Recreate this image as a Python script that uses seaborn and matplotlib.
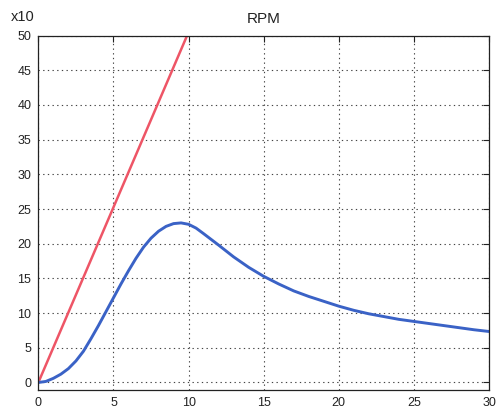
import matplotlib
matplotlib.use("Agg")
import matplotlib.pyplot as plt
import seaborn as sns
import pandas as pd

# Reference ramp (straight line, runs off the top of the plot)
ramp_t = [0, 9.9]
ramp_rpm = [0, 50]

# Measured speed curve (values in RPM x10)
speed_t = [0, 0.5, 1, 1.5, 2, 2.5, 3, 3.5, 4, 4.5, 5, 5.5, 6, 6.5, 7, 7.5, 8, 8.5, 9,
           9.5, 10, 10.5, 11, 12, 13, 14, 15, 16, 17, 18, 19, 20, 21, 22, 23, 24,
           25, 26, 27, 28, 29, 30]
speed_rpm = [0, 0.15, 0.6, 1.2, 2.0, 3.1, 4.5, 6.3, 8.2, 10.2, 12.2, 14.2, 16.1, 17.9,
             19.5, 20.8, 21.8, 22.5, 22.9, 23.0, 22.8, 22.25, 21.45, 19.8, 18.1, 16.6,
             15.3, 14.2, 13.2, 12.4, 11.7, 11.0, 10.4, 9.9, 9.5, 9.1, 8.8, 8.5, 8.2,
             7.9, 7.6, 7.35]

x_ticks = [0, 5, 10, 15, 20, 25, 30]
y_ticks = [0, 5, 10, 15, 20, 25, 30, 35, 40, 45, 50]

sns.set_style("white")
plt.rcParams["font.family"] = ["Liberation Sans", "DejaVu Sans"]

fig = plt.figure(figsize=(4.98, 4.09), dpi=100)
ax = fig.add_axes([0.077, 0.047, 0.905, 0.866])

ramp = pd.DataFrame({"t": ramp_t, "rpm": ramp_rpm})
speed = pd.DataFrame({"t": speed_t, "rpm": speed_rpm})

sns.lineplot(data=ramp, x="t", y="rpm", ax=ax, color="#ee5566", linewidth=1.8)
sns.lineplot(data=speed, x="t", y="rpm", ax=ax, color="#3a62c6", linewidth=2.1)

ax.set_xlim(0, 30)
ax.set_ylim(-1.05, 50)
ax.set_xticks(x_ticks)
ax.set_yticks(y_ticks)
ax.set_xlabel("")
ax.set_ylabel("")
ax.grid(True, linestyle=(0, (1.2, 3)), color="#444444", linewidth=0.8)
ax.tick_params(direction="in", length=4, width=0.8, labelsize=9, colors="#222222",
               top=True, right=True, pad=5)
for side in ax.spines.values():
    side.set_color("#222222")
    side.set_linewidth(0.9)

ax.set_title("RPM", fontsize=11, pad=9, color="#222222")
fig.text(0.022, 0.942, "x10", fontsize=10.5, color="#222222", ha="left", va="bottom")

fig.savefig("out.png", dpi=100)
